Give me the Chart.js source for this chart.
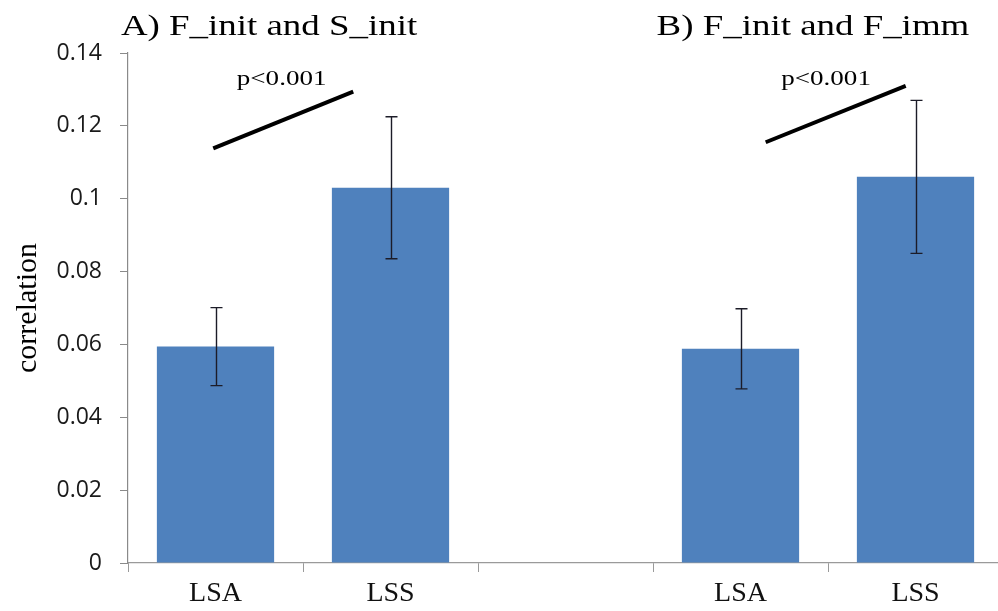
<!DOCTYPE html>
<html>
<head>
<meta charset="utf-8">
<script src="https://cdn.jsdelivr.net/npm/chart.js@4/dist/chart.umd.min.js"></script>
<style>
  html, body { margin: 0; padding: 0; overflow: hidden; background: #fff; }
  #wrap { position: relative; width: 1003px; height: 611px; }
</style>
</head>
<body>
<div id="wrap"><canvas id="c"></canvas></div>
<script>
// Categories along the x axis (blank slot separates the two panels)
const categories = ['LSA', 'LSS', '', 'LSA', 'LSS'];
// Mean correlation per bar
const correlation = [0.0594, 0.1030, null, 0.0588, 0.1060];
// Half-length of each error bar
const errorHalf = [0.0107, 0.0195, null, 0.0110, 0.0210];
// Y axis tick values
const yTicks = [0, 0.02, 0.04, 0.06, 0.08, 0.1, 0.12, 0.14];
// Panel headings and significance labels
const panelTitles = ['A) F_init and S_init', 'B) F_init and F_imm'];
const pLabels = ['p<0.001', 'p<0.001'];

const SERIF = '"Liberation Serif", "Times New Roman", serif';

// Error bars drawn on top of each bar, in data units through the y scale
const errorBarPlugin = {
  id: 'errorBars',
  afterDatasetsDraw(chart) {
    const ctx = chart.ctx;
    const y = chart.scales.y;
    const meta = chart.getDatasetMeta(0);
    ctx.save();
    ctx.strokeStyle = '#1c1c28';
    ctx.lineWidth = 1.4;
    meta.data.forEach((bar, i) => {
      const v = correlation[i], e = errorHalf[i];
      if (v == null || e == null) return;
      const x = Math.round(bar.x) + 0.5;
      const yTop = y.getPixelForValue(v + e);
      const yBot = y.getPixelForValue(v - e);
      const cap = 6;
      ctx.beginPath();
      ctx.moveTo(x, yTop); ctx.lineTo(x, yBot);
      ctx.moveTo(x - cap, yTop); ctx.lineTo(x + cap, yTop);
      ctx.moveTo(x - cap, yBot); ctx.lineTo(x + cap, yBot);
      ctx.stroke();
    });
    ctx.restore();
  }
};

// Panel headings, significance strokes and p-value labels (x in category units, y in data units)
const panelMarks = [
  { title: panelTitles[0], titleX: 0.306, p: pLabels[0], pX: 0.378, pY: 0.1312,
    line: [[-0.013, 0.1138], [0.787, 0.1294]] },
  { title: panelTitles[1], titleX: 3.414, p: pLabels[1], pX: 3.489, pY: 0.1312,
    line: [[3.144, 0.1155], [3.944, 0.1310]] }
];

function wideText(ctx, text, x, y, sx) {
  ctx.save();
  ctx.translate(x, y);
  ctx.scale(sx, 1);
  ctx.textAlign = 'center';
  ctx.textBaseline = 'alphabetic';
  ctx.fillText(text, 0, 0);
  ctx.restore();
}

const annotationPlugin = {
  id: 'panelMarks',
  afterDraw(chart) {
    const ctx = chart.ctx;
    const xs = chart.scales.x, ys = chart.scales.y;
    const px = v => xs.getPixelForValue(v);
    ctx.save();
    ctx.fillStyle = '#000';
    ctx.strokeStyle = '#000';
    panelMarks.forEach(m => {
      ctx.font = '30px ' + SERIF;
      wideText(ctx, m.title, px(m.titleX), 35, 1.23);
      ctx.font = '22px ' + SERIF;
      wideText(ctx, m.p, px(m.pX), ys.getPixelForValue(m.pY), 1.23);
      ctx.lineWidth = 4;
      ctx.lineCap = 'butt';
      ctx.beginPath();
      ctx.moveTo(px(m.line[0][0]), ys.getPixelForValue(m.line[0][1]));
      ctx.lineTo(px(m.line[1][0]), ys.getPixelForValue(m.line[1][1]));
      ctx.stroke();
    });
    ctx.restore();
  }
};

new Chart(document.getElementById('c'), {
  type: 'bar',
  data: {
    labels: categories,
    datasets: [{
      data: correlation,
      backgroundColor: '#4F81BD',
      borderWidth: 0,
      barPercentage: 0.67,
      categoryPercentage: 1.0
    }]
  },
  options: {
    responsive: true,
    maintainAspectRatio: false,
    animation: false,
    layout: { padding: { top: 53, left: 0, right: 0, bottom: 0 } },
    plugins: {
      legend: { display: false },
      tooltip: { enabled: false }
    },
    scales: {
      x: {
        offset: true,
        grid: { drawOnChartArea: false, tickLength: 9, color: '#9a9a9a', offset: true },
        border: { color: '#9a9a9a', width: 1.2 },
        ticks: {
          color: '#111',
          padding: 5,
          font: { family: SERIF, size: 28 },
          maxRotation: 0,
          autoSkip: false
        },
        afterFit(scale) { scale.height = 48; }
      },
      y: {
        min: 0,
        max: 0.14,
        afterBuildTicks(scale) { scale.ticks = yTicks.map(v => ({ value: v })); },
        grid: { drawOnChartArea: false, tickLength: 8, color: '#8a8a8a' },
        border: { color: '#8a8a8a', width: 1.2 },
        ticks: {
          color: '#1a1a1a',
          padding: 18,
          font: { family: '"Open Sans", sans-serif', size: 23 },
          callback: v => String(+Number(v).toFixed(2))
        },
        title: {
          display: true,
          text: 'correlation',
          color: '#000',
          font: { family: SERIF, size: 30 },
          padding: { top: 10, bottom: 0 }
        },
        afterFit(scale) { scale.width = 128; }
      }
    }
  },
  plugins: [errorBarPlugin, annotationPlugin]
});
</script>
</body>
</html>
